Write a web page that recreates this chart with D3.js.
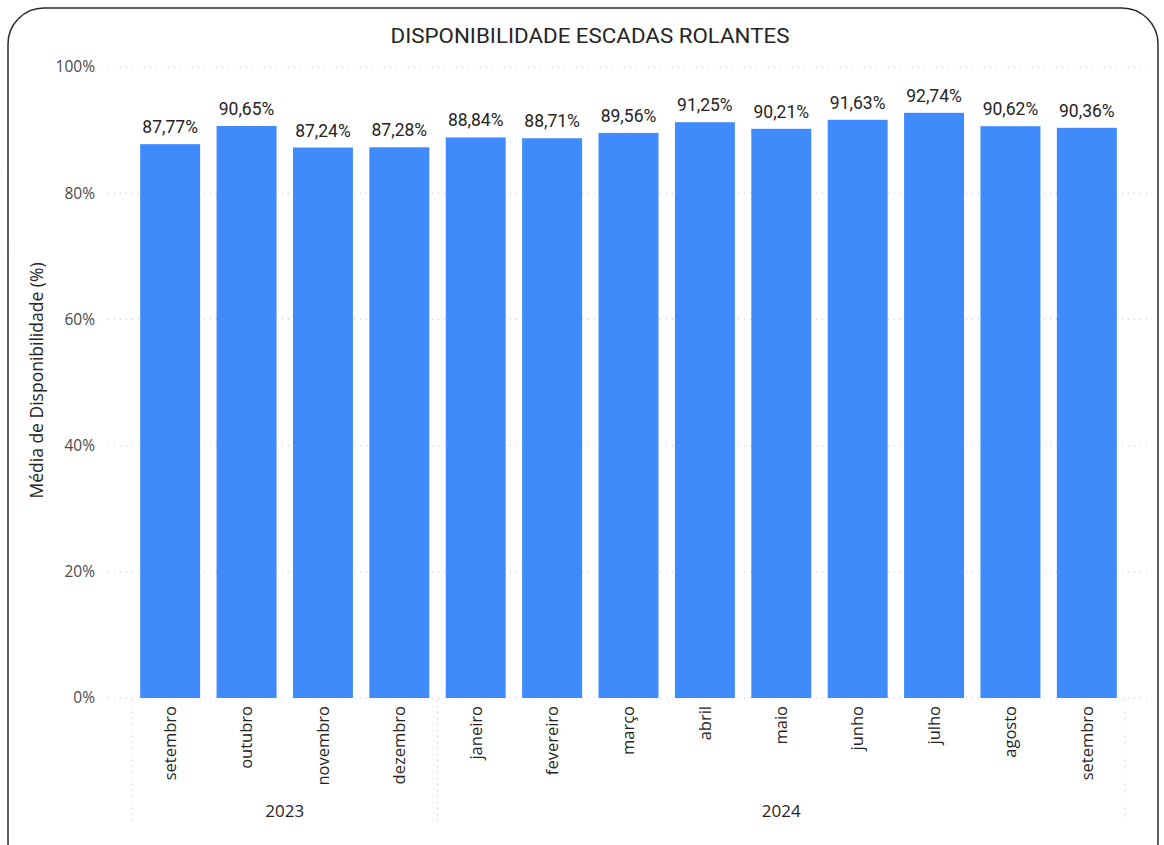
<!DOCTYPE html>
<html>
<head>
<meta charset="utf-8">
<script src="https://cdn.jsdelivr.net/npm/d3@7"></script>
<style>
  html, body { margin: 0; padding: 0; background: #fff; }
  svg { display: block; }
</style>
</head>
<body>
<svg id="chart" width="1164" height="845"></svg>
<script>
const title = "DISPONIBILIDADE ESCADAS ROLANTES";
const yAxisTitle = "Média de Disponibilidade (%)";
const months = ["setembro","outubro","novembro","dezembro","janeiro","fevereiro","março","abril","maio","junho","julho","agosto","setembro"];
const years = ["2023","2023","2023","2023","2024","2024","2024","2024","2024","2024","2024","2024","2024"];
const values = [87.77, 90.65, 87.24, 87.28, 88.84, 88.71, 89.56, 91.25, 90.21, 91.63, 92.74, 90.62, 90.36];
const yTicks = [0, 20, 40, 60, 80, 100];

const data = months.map((m, i) => ({ key: i, month: m, year: years[i], value: values[i] }));

const svg = d3.select("#chart");
const labelFont = "'Open Sans', 'Noto Sans', sans-serif";
const dinFont = "'Roboto', 'DejaVu Sans', sans-serif";

// frame
svg.append("rect")
  .attr("x", 8).attr("y", 8).attr("width", 1150).attr("height", 870)
  .attr("rx", 36).attr("ry", 36)
  .attr("fill", "#fff").attr("stroke", "#2b2b2b").attr("stroke-width", 1.5);

// title
svg.append("text")
  .attr("x", 590).attr("y", 43)
  .attr("text-anchor", "middle")
  .attr("font-family", dinFont).attr("font-weight", 400)
  .attr("font-size", 20).attr("fill", "#252423")
  .attr("textLength", 399).attr("lengthAdjust", "spacingAndGlyphs")
  .text(title);

const plotTop = 67, plotBottom = 698;
const x = d3.scaleBand().domain(data.map(d => d.key)).range([132, 1125]).paddingInner(0.215).paddingOuter(0.107);
const y = d3.scaleLinear().domain([0, 100]).range([plotBottom, plotTop]);

// gridlines
svg.append("g").selectAll("line").data(yTicks).join("line")
  .attr("x1", 108).attr("x2", 1148)
  .attr("y1", d => y(d)).attr("y2", d => y(d))
  .attr("stroke", "#c8c6c4").attr("stroke-width", 1)
  .attr("stroke-dasharray", "1,5");

// y axis tick labels
const yAxis = d3.axisLeft(y).tickValues(yTicks).tickFormat(d => d + "%").tickSize(0).tickPadding(0);
const ya = svg.append("g").attr("transform", "translate(95,0)").call(yAxis);
ya.select(".domain").remove();
ya.attr("font-size", null).attr("font-family", null);
ya.selectAll("text")
  .attr("font-family", labelFont).attr("font-size", 15.5).attr("fill", "#4a4a4a");

// y axis title
svg.append("text")
  .attr("transform", `translate(43,${(plotTop + plotBottom) / 2 - 2}) rotate(-90)`)
  .attr("text-anchor", "middle")
  .attr("font-family", labelFont).attr("font-size", 17.5).attr("fill", "#252423")
  .text(yAxisTitle);

// bars
svg.append("g").selectAll("rect").data(data).join("rect")
  .attr("x", d => x(d.key)).attr("width", x.bandwidth())
  .attr("y", d => y(d.value)).attr("height", d => y(0) - y(d.value))
  .attr("fill", "#3f8bfc");

// data labels
svg.append("g").selectAll("text").data(data).join("text")
  .attr("x", d => x(d.key) + x.bandwidth() / 2)
  .attr("y", d => y(d.value) - 11)
  .attr("text-anchor", "middle")
  .attr("font-family", dinFont).attr("font-size", 17.5).attr("fill", "#252423")
  .text(d => d.value.toFixed(2).replace(".", ",") + "%");

// x axis month labels
const xAxis = d3.axisBottom(x).tickFormat(i => months[i]).tickSize(0).tickPadding(0);
const xa = svg.append("g").attr("transform", `translate(0,${plotBottom})`).call(xAxis);
xa.select(".domain").remove();
xa.attr("font-size", null).attr("font-family", null);
xa.selectAll("text")
  .attr("transform", "rotate(-90)")
  .attr("x", -8).attr("y", 0).attr("dy", "0.35em")
  .attr("text-anchor", "end")
  .attr("font-family", labelFont).attr("font-size", 16.5).attr("fill", "#252423");

// year groups
const yearGroups = d3.groups(data, d => d.year);
const step = x.step();
const seps = [];
yearGroups.forEach(([yr, items], gi) => {
  const first = items[0].key, last = items[items.length - 1].key;
  const x0 = x(first) - step * x.paddingInner() / 2 - (first === 0 ? step * (x.paddingOuter() - x.paddingInner() / 2) : 0);
  const x1 = x(last) + x.bandwidth() + step * x.paddingInner() / 2 + (last === data.length - 1 ? step * (x.paddingOuter() - x.paddingInner() / 2) : 0);
  seps.push(x0);
  if (gi === yearGroups.length - 1) seps.push(x1);
  svg.append("text")
    .attr("x", (x0 + x1) / 2).attr("y", 817)
    .attr("text-anchor", "middle")
    .attr("font-family", labelFont).attr("font-size", 17).attr("fill", "#252423")
    .text(yr);
});
svg.append("g").selectAll("line").data(seps).join("line")
  .attr("x1", d => d).attr("x2", d => d)
  .attr("y1", plotBottom + 2).attr("y2", 826)
  .attr("stroke", "#c8c6c4").attr("stroke-width", 1)
  .attr("stroke-dasharray", "1,5");
</script>
</body>
</html>
